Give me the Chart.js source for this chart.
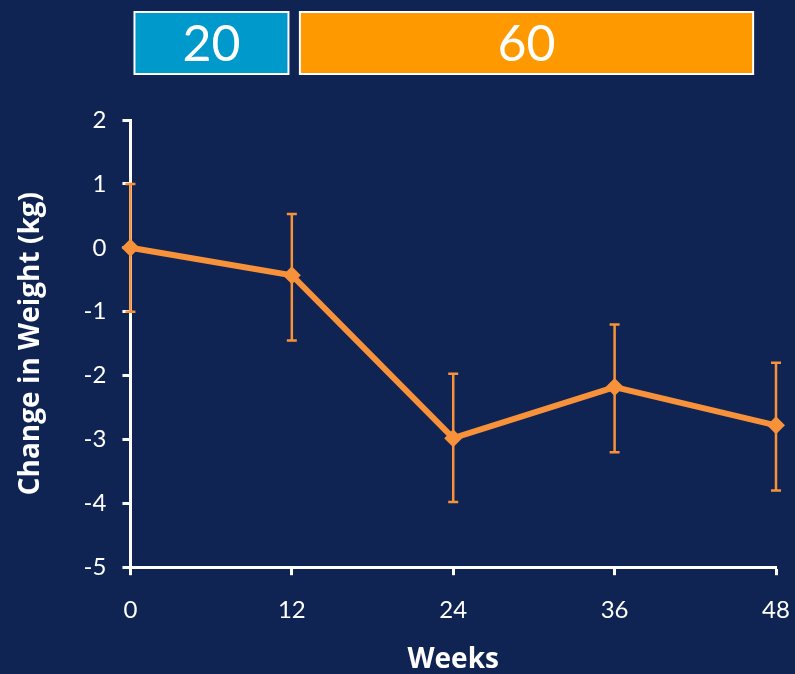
<!DOCTYPE html>
<html>
<head>
<meta charset="utf-8">
<script src="https://cdn.jsdelivr.net/npm/chart.js@4"></script>
<style>
  html, body { margin: 0; padding: 0; background: #0f2453; }
  #wrap { width: 795px; height: 674px; position: relative; }
</style>
</head>
<body>
<div id="wrap"><canvas id="chart" width="795" height="674"></canvas></div>
<script>
// ── data ──
const weeks = [0, 12, 24, 36, 48];
const change = [0, -0.43, -2.98, -2.18, -2.78];
const errLow = [-1, -1.45, -3.98, -3.2, -3.8];
const errHigh = [1, 0.53, -1.97, -1.2, -1.8];
const yTicks = [-5, -4, -3, -2, -1, 0, 1, 2];
const periodFrom = [0.3, 12.6];
const periodTo = [11.75, 46.3];
const periodLabel = ['20', '60'];
const periodColor = ['#0099cc', '#ff9900'];

const ORANGE = '#f7923a';
const TICK_FONT = 'Lato, "Open Sans", sans-serif';
const TITLE_FONT = '"Open Sans", Lato, sans-serif';

// error bars drawn through the scales
const errorBars = {
  id: 'errorBars',
  beforeDatasetsDraw(chart) {
    const { ctx, scales: { x, y } } = chart;
    ctx.save();
    ctx.strokeStyle = ORANGE;
    ctx.lineWidth = 2.5;
    weeks.forEach((w, i) => {
      const px = x.getPixelForValue(w);
      const top = y.getPixelForValue(errHigh[i]);
      const bot = y.getPixelForValue(errLow[i]);
      ctx.beginPath();
      ctx.moveTo(px, top); ctx.lineTo(px, bot);
      ctx.moveTo(px - 5, top); ctx.lineTo(px + 5, top);
      ctx.moveTo(px - 5, bot); ctx.lineTo(px + 5, bot);
      ctx.stroke();
    });
    ctx.restore();
  }
};

// dose boxes above the plot
const periodBoxes = {
  id: 'periodBoxes',
  afterDraw(chart) {
    const { ctx, scales: { x } } = chart;
    ctx.save();
    periodLabel.forEach((lab, i) => {
      const x0 = x.getPixelForValue(periodFrom[i]);
      const x1 = x.getPixelForValue(periodTo[i]);
      const y0 = 12, h = 62;
      ctx.fillStyle = periodColor[i];
      ctx.fillRect(x0, y0, x1 - x0, h);
      ctx.strokeStyle = '#ffffff';
      ctx.lineWidth = 2;
      ctx.strokeRect(x0, y0, x1 - x0, h);
      ctx.fillStyle = '#ffffff';
      ctx.font = '50px ' + TICK_FONT;
      ctx.textAlign = 'center';
      ctx.textBaseline = 'middle';
      ctx.fillText(lab, (x0 + x1) / 2, y0 + h / 2 + 2);
    });
    ctx.restore();
  }
};

new Chart(document.getElementById('chart').getContext('2d'), {
  type: 'line',
  data: {
    datasets: [{
      data: weeks.map((w, i) => ({ x: w, y: change[i] })),
      borderColor: ORANGE,
      backgroundColor: ORANGE,
      borderWidth: 6,
      pointStyle: 'rectRot',
      pointRadius: 9,
      pointBorderWidth: 0,
      tension: 0,
      clip: false,
    }]
  },
  options: {
    responsive: false,
    animation: false,
    devicePixelRatio: 1,
    layout: { padding: { top: 120, right: 0, left: 6, bottom: 0 } },
    plugins: { legend: { display: false }, tooltip: { enabled: false } },
    scales: {
      x: {
        type: 'linear',
        min: 0, max: 48,
        afterBuildTicks: s => { s.ticks = weeks.map(v => ({ value: v })); },
        afterFit: s => { s.paddingRight = 19; },
        border: { color: '#ffffff', width: 3 },
        grid: { drawOnChartArea: false, color: '#ffffff', tickLength: 8, tickWidth: 3 },
        ticks: { color: '#ffffff', padding: 21, font: { size: 24, family: TICK_FONT } },
        title: { display: true, text: 'Weeks', color: '#ffffff', padding: { top: 0, bottom: 0 },
                 font: { size: 28, weight: 'bold', lineHeight: 1, family: TITLE_FONT } }
      },
      y: {
        min: -5, max: 2,
        afterBuildTicks: s => { s.ticks = yTicks.map(v => ({ value: v })); },
        border: { color: '#ffffff', width: 3 },
        grid: { drawOnChartArea: false, color: '#ffffff', tickLength: 8, tickWidth: 3 },
        ticks: { color: '#ffffff', padding: 16, font: { size: 24, family: TICK_FONT } },
        title: { display: true, text: 'Change in Weight (kg)', color: '#ffffff', padding: { top: 8, bottom: 20 },
                 font: { size: 28, weight: 'bold', family: TITLE_FONT } }
      }
    }
  },
  plugins: [errorBars, periodBoxes]
});
</script>
</body>
</html>
